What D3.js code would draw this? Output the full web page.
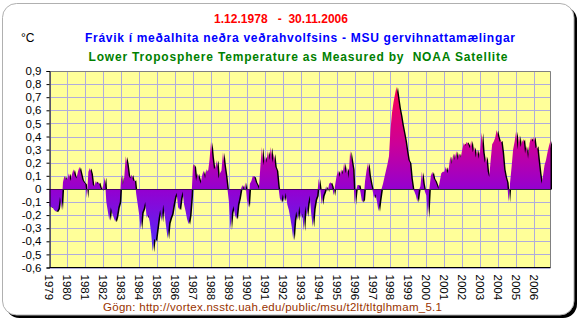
<!DOCTYPE html>
<meta charset="utf-8">
<script src="https://d3js.org/d3.v7.min.js"></script>
<style>
  body { margin: 0; background: #fff; }
  text { font-family: "Liberation Sans", Arial, sans-serif; }
</style>
<div id="chart"></div>
<script>
// monthly anomalies (°C), first value = Dec 1978, last = Nov 2006
var anomalies = [
  -0.13,-0.14,-0.14,-0.16,-0.17,-0.17,-0.15,-0.06,-0.16, 0.05, 0.10, 0.07,
   0.08, 0.12, 0.06, 0.11, 0.15, 0.10, 0.08, 0.13, 0.17, 0.12, 0.07, 0.05,
   0.04,-0.07, 0.13, 0.16, 0.12, 0.03, 0.02, 0.06, 0.04, 0.05, 0.01,-0.01,
   0.03, 0.09,-0.10,-0.17,-0.24,-0.14,-0.19,-0.22,-0.25,-0.21,-0.14,-0.10,
   0.11, 0.03, 0.09, 0.25, 0.19, 0.10, 0.08, 0.11, 0.06, 0.07,-0.04,-0.12,
  -0.20,-0.31,-0.18,-0.15,-0.10,-0.22,-0.20,-0.25,-0.34,-0.48,-0.38,-0.40,
  -0.31,-0.22,-0.16,-0.25,-0.12,-0.20,-0.29,-0.38,-0.26,-0.22,-0.19,-0.12,
  -0.06,-0.03,-0.14,-0.16,-0.07,-0.02,-0.12,-0.17,-0.23,-0.27,-0.20,-0.05,
   0.19, 0.17, 0.06, 0.12, 0.08, 0.04, 0.10, 0.14, 0.08, 0.15, 0.13, 0.22,
   0.36, 0.24, 0.15, 0.17, 0.22, 0.08, 0.12, 0.14, 0.28, 0.18, 0.10, 0.00,
  -0.10,-0.31,-0.18,-0.13,-0.20,-0.23,-0.12,-0.07, 0.00, 0.03,-0.01, 0.05,
  -0.08,-0.14, 0.04, 0.06, 0.10, 0.09, 0.05, 0.03, 0.00, 0.17, 0.32, 0.18,
   0.25, 0.20, 0.29, 0.22, 0.32, 0.20, 0.27, 0.17, 0.14, 0.02,-0.07,-0.10,
  -0.04,-0.09,-0.03,-0.12,-0.16,-0.22,-0.29,-0.39,-0.24,-0.17,-0.24,-0.13,
  -0.22,-0.19,-0.32,-0.13,-0.21,-0.11,-0.05,-0.19,-0.29,-0.15,-0.08,-0.05,
   0.08, 0.00,-0.12,-0.05,-0.02, 0.02,-0.02, 0.04, 0.05, 0.02,-0.05, 0.03,
   0.10, 0.14, 0.09, 0.15, 0.11, 0.20, 0.12, 0.16, 0.08, 0.29, 0.22, 0.15,
  -0.12,-0.01, 0.03, 0.03,-0.03,-0.10,-0.08, 0.06, 0.14, 0.20, 0.10, 0.04,
  -0.01,-0.07,-0.04,-0.10,-0.17,-0.08, 0.00, 0.04, 0.09, 0.14, 0.19, 0.25,
   0.45, 0.58, 0.66, 0.72, 0.78, 0.70, 0.62, 0.56, 0.49, 0.43, 0.37, 0.29,
   0.22, 0.20, 0.08, 0.00,-0.02,-0.05,-0.10,-0.01, 0.02, 0.13, 0.04,-0.02,
  -0.05,-0.22, 0.00, 0.10, 0.13, 0.08, 0.06, 0.03, 0.00, 0.06, 0.12, 0.13,
   0.13, 0.17, 0.12, 0.16, 0.25, 0.19, 0.27, 0.22, 0.29, 0.22, 0.27, 0.24,
   0.30, 0.35, 0.33, 0.36, 0.34, 0.31, 0.37, 0.28, 0.32, 0.24, 0.30, 0.23,
   0.30, 0.43, 0.28, 0.20, 0.25, 0.13, 0.09, 0.22, 0.34, 0.36, 0.39, 0.45,
   0.40, 0.36, 0.37, 0.28, 0.15, 0.09, 0.05,-0.10, 0.05, 0.17, 0.30, 0.36,
   0.44, 0.30, 0.41, 0.32, 0.36, 0.38, 0.27, 0.33, 0.23, 0.35, 0.39, 0.36,
   0.40, 0.31, 0.33, 0.22, 0.12, 0.04, 0.10, 0.18, 0.22, 0.28, 0.33, 0.37
];
var yearLabels = [1979,1980,1981,1982,1983,1984,1985,1986,1987,1988,1989,1990,1991,1992,
                  1993,1994,1995,1996,1997,1998,1999,2000,2001,2002,2003,2004,2005,2006];
var yTicks = [-0.6,-0.5,-0.4,-0.3,-0.2,-0.1,0,0.1,0.2,0.3,0.4,0.5,0.6,0.7,0.8,0.9];

var width = 583, height = 327;
var plot = {left: 49.5, right: 550.5, top: 71, bottom: 267.5};

var svg = d3.select("#chart").append("svg")
    .attr("width", width)
    .attr("height", height);

// frame with shadow
svg.append("rect")
    .attr("x", 5.5).attr("y", 6.5)
    .attr("width", 571.5).attr("height", 311.5)
    .attr("rx", 14)
    .style("fill", "#000");
svg.append("rect")
    .attr("x", 2.5).attr("y", 3.5)
    .attr("width", 571.5).attr("height", 311.5)
    .attr("rx", 14)
    .style("fill", "#fff")
    .style("stroke", "#b0b0b0");

var x = d3.scaleLinear().domain([0, anomalies.length - 1]).range([plot.left, plot.right]);
var y = d3.scaleLinear().domain([-0.6, 0.9]).range([plot.bottom, plot.top]);

// gradient for the area
var defs = svg.append("defs");
var grad = defs.append("linearGradient")
    .attr("id", "fillGrad")
    .attr("gradientUnits", "userSpaceOnUse")
    .attr("x1", 0).attr("x2", 0)
    .attr("y1", y(0.8)).attr("y2", y(-0.5));
grad.append("stop").attr("offset", "0%").attr("stop-color", "#ff0050");
grad.append("stop").attr("offset", "35%").attr("stop-color", "#cc0098");
grad.append("stop").attr("offset", "62%").attr("stop-color", "#9400d0");
grad.append("stop").attr("offset", "100%").attr("stop-color", "#4a30ff");

// plot background
svg.append("rect")
    .attr("x", plot.left).attr("y", plot.top)
    .attr("width", plot.right - plot.left).attr("height", plot.bottom - plot.top)
    .style("fill", "#ffff99");

// grid
var grid = svg.append("g").style("stroke", "#b0acdc").style("stroke-width", 1);
grid.selectAll("line.h")
  .data(yTicks)
  .enter().append("line")
    .attr("x1", plot.left).attr("x2", plot.right)
    .attr("y1", function(d) { return Math.round(y(d)) + 0.5; })
    .attr("y2", function(d) { return Math.round(y(d)) + 0.5; });
grid.selectAll("line.v")
  .data(yearLabels)
  .enter().append("line")
    .attr("x1", function(d, i) { return Math.round(x(i * 12)) + 0.5; })
    .attr("x2", function(d, i) { return Math.round(x(i * 12)) + 0.5; })
    .attr("y1", plot.top).attr("y2", plot.bottom);

// plot border (top/right)
svg.append("path")
    .attr("d", "M" + plot.left + "," + (plot.top + 0.5) + "H" + plot.right + "V" + plot.bottom)
    .style("fill", "none")
    .style("stroke", "#808080");

// area with a dark shadow
var area = d3.area()
    .x(function(d, i) { return x(i); })
    .y0(y(0))
    .y1(function(d) { return y(d); });

svg.append("path")
    .datum(anomalies)
    .attr("d", area)
    .attr("transform", "translate(1.5,0.5)")
    .style("fill", "#000");
svg.append("path")
    .datum(anomalies)
    .attr("d", area)
    .style("fill", "url(#fillGrad)");

// zero line, dotted
svg.append("line")
    .attr("x1", plot.left).attr("x2", plot.right)
    .attr("y1", Math.round(y(0)) + 0.5).attr("y2", Math.round(y(0)) + 0.5)
    .style("stroke", "#000")
    .style("stroke-dasharray", "1,1");

// axes
var yAxis = d3.axisLeft(y)
    .tickValues(yTicks)
    .tickSize(3)
    .tickFormat(function(d) { return d === 0 ? "0" : d.toFixed(1).replace(".", ","); });
var gy = svg.append("g")
    .attr("transform", "translate(" + plot.left + ",0)")
    .call(yAxis);
gy.selectAll("text")
    .style("font-size", "11.5px")
    .style("fill", "#000")
    .attr("x", -8);
gy.select(".domain").style("stroke", "#000");

svg.append("line")
    .attr("x1", plot.left).attr("x2", plot.right)
    .attr("y1", plot.bottom).attr("y2", plot.bottom)
    .style("stroke", "#000");

svg.selectAll("text.year")
  .data(yearLabels)
  .enter().append("text")
    .attr("class", "year")
    .attr("transform", function(d, i) { return "translate(" + x(i * 12) + "," + (plot.bottom + 7) + ") rotate(90)"; })
    .attr("dy", "0.35em")
    .style("font-size", "11.5px")
    .style("fill", "#000")
    .text(function(d) { return d; });

// titles
svg.append("text")
    .attr("x", 281).attr("y", 23)
    .attr("text-anchor", "middle")
    .attr("textLength", 134).attr("lengthAdjust", "spacing")
    .style("font-size", "12px").style("font-weight", "bold")
    .style("fill", "#ff0000")
    .style("white-space", "pre")
    .text("1.12.1978   -  30.11.2006");
svg.append("text")
    .attr("x", 300).attr("y", 42)
    .attr("text-anchor", "middle")
    .attr("textLength", 430).attr("lengthAdjust", "spacing")
    .style("font-size", "12px").style("font-weight", "bold")
    .style("fill", "#0000ff")
    .text("Frávik í meðalhita neðra veðrahvolfsins - MSU gervihnattamælingar");
svg.append("text")
    .attr("x", 298).attr("y", 61)
    .attr("text-anchor", "middle")
    .attr("textLength", 419).attr("lengthAdjust", "spacing")
    .style("font-size", "12px").style("font-weight", "bold")
    .style("fill", "#008000")
    .style("white-space", "pre")
    .text("Lower Troposphere Temperature as Measured by  NOAA Satellite");
svg.append("text")
    .attr("x", 21).attr("y", 42)
    .style("font-size", "12px")
    .style("fill", "#000")
    .text("°C");

svg.append("text")
    .attr("x", 272.5).attr("y", 311)
    .attr("text-anchor", "middle")
    .attr("textLength", 339).attr("lengthAdjust", "spacing")
    .style("font-size", "11.5px")
    .style("fill", "#993300")
    .text("Gögn: http://vortex.nsstc.uah.edu/public/msu/t2lt/tltglhmam_5.1");
</script>
